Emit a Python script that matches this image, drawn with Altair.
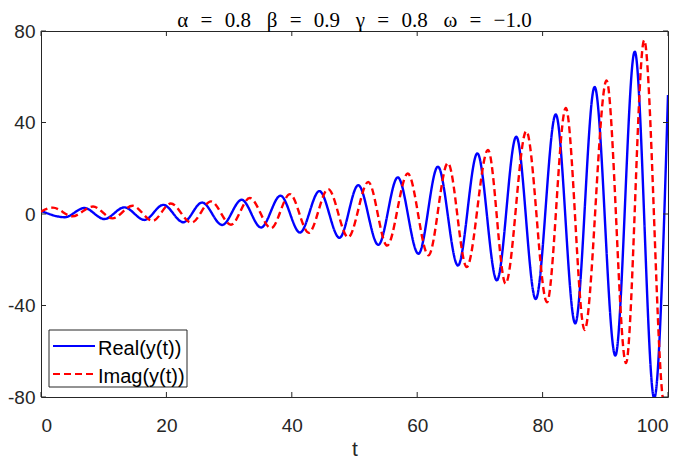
import altair as alt
import pandas as pd

# Real part: local extrema (t, value)
real_t = [0, 3.8, 6.9, 10.1, 13.3, 16.5, 19.5, 22.7, 25.7, 28.9, 32.0, 35.1, 38.2, 41.3,
          44.4, 47.6, 50.6, 53.8, 56.9, 60.2, 63.3, 66.5, 69.6, 72.7, 75.8, 78.9, 82.1,
          85.2, 88.3, 91.6, 94.7, 97.8, 100]
real_y = [1.4, -1.4, 2.6, -2.2, 2.9, -2.6, 4.0, -3.6, 5.0, -4.8, 6.2, -5.9, 8.0, -8.1,
          10.0, -10.4, 12.6, -13.5, 16.0, -17.4, 20.7, -22.5, 26.5, -29.0, 33.8, -37.2, 43.5,
          -47.8, 55.5, -61.9, 71.0, -80.5, 52]

# Imaginary part: local extrema (t, value)
imag_t = [0, 1.9, 5.0, 8.3, 11.4, 14.6, 17.8, 20.7, 24.0, 27.1, 30.3, 33.3, 36.7, 39.7,
          42.7, 45.8, 49.0, 52.2, 55.2, 58.5, 61.8, 64.9, 67.9, 71.3, 74.1, 77.4, 80.7,
          83.7, 86.7, 90.2, 93.3, 96.2, 99.4, 100]
imag_y = [1.0, 2.8, -1.0, 3.3, -1.9, 3.6, -3.0, 4.6, -3.8, 5.5, -4.7, 7.0, -6.2, 8.7,
          -8.2, 10.9, -10.2, 14.0, -13.8, 17.7, -18.1, 22.3, -23.2, 28.0, -30.4, 36.2, -38.6,
          46.4, -50.7, 58.4, -65.2, 76.0, -83.0, -81.0]

x_ticks = [0, 20, 40, 60, 80, 100]
y_ticks = [-80, -40, 0, 40, 80]
series_names = ["Real(y(t))", "Imag(y(t))"]
series_colors = ["#0000ff", "#ff0000"]
series_dash = [[1, 0], [7, 4]]
EQ = "\u2002\u200a=\u2002\u200a"
GAP = "\u2002\u2005"
title_text = ["α" + EQ + "0.8" + GAP + "β" + EQ + "0.9" + GAP + "γ" + EQ + "0.8" + GAP + "ω" + EQ + "−1.0"]

df = pd.concat([
    pd.DataFrame({"t": real_t, "y": real_y, "s": series_names[0], "o": list(range(len(real_t)))}),
    pd.DataFrame({"t": imag_t, "y": imag_y, "s": series_names[1], "o": list(range(len(imag_t)))}),
])

W, H = 627, 366
FONT = "Liberation Sans"
AX = "#262626"

xscale = alt.Scale(domain=[0, 100], nice=False)
yscale = alt.Scale(domain=[-80, 80], nice=False)

lines = alt.Chart(df).mark_line(strokeWidth=2.4, interpolate="monotone", clip=True).encode(
    x=alt.X("t:Q", scale=xscale,
            axis=alt.Axis(values=x_ticks, title="t", grid=False, ticks=False, domain=False,
                          labelFontSize=19, labelFont=FONT, labelColor=AX,
                          titleFontSize=21, titleFont=FONT, titleFontWeight="normal",
                          titleColor=AX, labelPadding=19, titlePadding=3)),
    y=alt.Y("y:Q", scale=yscale,
            axis=alt.Axis(values=y_ticks, title=None, grid=False, ticks=False, domain=False,
                          labelFontSize=19, labelFont=FONT, labelColor=AX,
                          labelExpr="'' + datum.value", labelPadding=6)),
    color=alt.Color("s:N", scale=alt.Scale(domain=series_names, range=series_colors), legend=None),
    strokeDash=alt.StrokeDash("s:N", scale=alt.Scale(domain=series_names, range=series_dash),
                              legend=None),
    order="o:Q",
)

xt = pd.DataFrame({"t": x_ticks})
yt = pd.DataFrame({"y": y_ticks})
TL = 5
xb = alt.Chart(xt).mark_rule(color=AX, strokeWidth=1).encode(
    x=alt.X("t:Q", scale=xscale), y=alt.value(H), y2=alt.value(H - TL))
xtop = alt.Chart(xt).mark_rule(color=AX, strokeWidth=1).encode(
    x=alt.X("t:Q", scale=xscale), y=alt.value(0), y2=alt.value(TL))
yl = alt.Chart(yt).mark_rule(color=AX, strokeWidth=1).encode(
    y=alt.Y("y:Q", scale=yscale), x=alt.value(0), x2=alt.value(TL))
yr = alt.Chart(yt).mark_rule(color=AX, strokeWidth=1).encode(
    y=alt.Y("y:Q", scale=yscale), x=alt.value(W), x2=alt.value(W - TL))

# legend drawn as a box with sample lines and labels
leg_df = pd.DataFrame({"s": series_names})
legend_box = alt.Chart(leg_df.head(1)).mark_rect(fill="white", stroke=AX, strokeWidth=1).encode(
    x=alt.value(8), x2=alt.value(146), y=alt.value(299), y2=alt.value(356))
legend_layers = [legend_box]
row_y = [315, 343]
for i, name in enumerate(series_names):
    d = pd.DataFrame({"s": [name]})
    legend_layers.append(
        alt.Chart(d).mark_rule(color=series_colors[i], strokeWidth=2.2,
                               strokeDash=series_dash[i]).encode(
            x=alt.value(12), x2=alt.value(54), y=alt.value(row_y[i])))
    legend_layers.append(
        alt.Chart(d).mark_text(align="left", baseline="middle", font=FONT, fontSize=20,
                               color="#000000").encode(
            text="s:N", x=alt.value(57), y=alt.value(row_y[i] + 3)))

title_mark = alt.Chart(pd.DataFrame({"title": title_text})).mark_text(
    align="center", baseline="alphabetic", font="Liberation Serif", fontSize=21,
    color="#000000").encode(text="title:N", x=alt.value(W / 2), y=alt.value(-4))

chart = alt.layer(lines, xb, xtop, yl, yr, *legend_layers, title_mark).properties(
    width=W, height=H,
    autosize=alt.AutoSizeParams(type="none"),
    padding={"left": 33, "top": 23, "right": 9, "bottom": 61},
).configure_view(stroke=AX, strokeWidth=1)

chart.save("out.html", embed_options={"renderer": "svg", "actions": False})
